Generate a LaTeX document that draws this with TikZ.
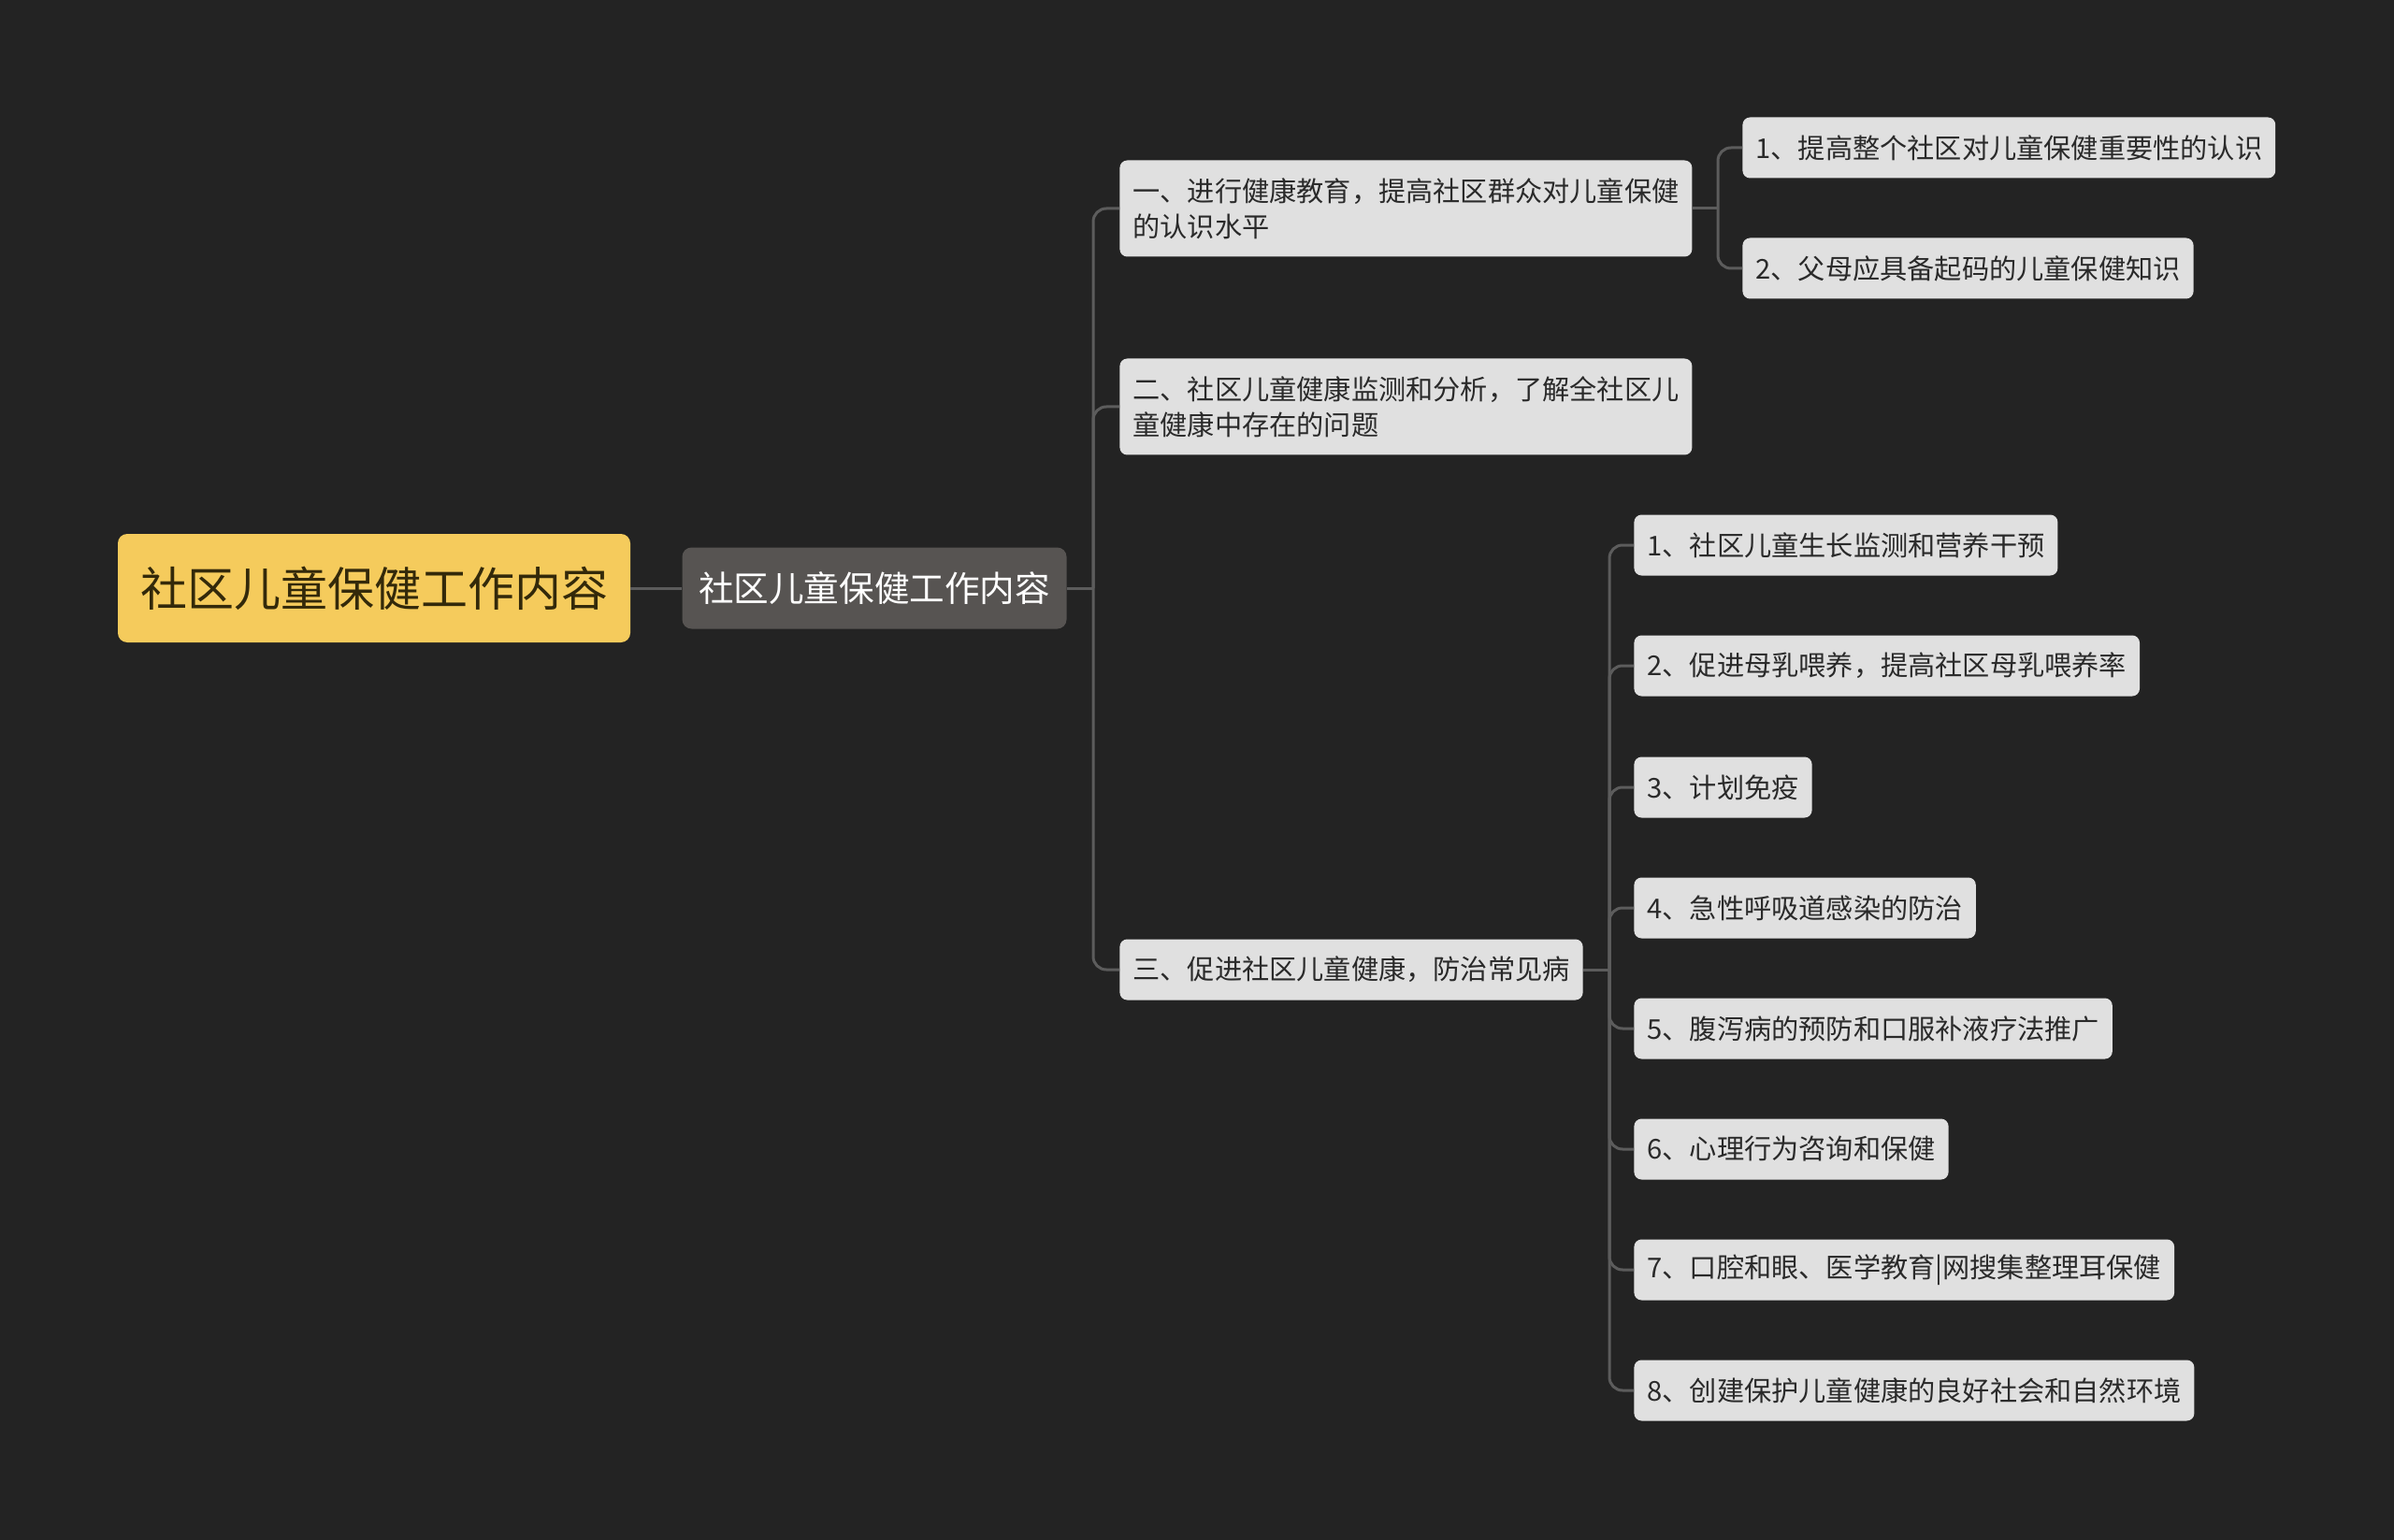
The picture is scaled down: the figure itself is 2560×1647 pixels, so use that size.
\documentclass[tikz,border=0pt]{standalone}
\usepackage{fontspec}
\setmainfont{Noto Sans CJK SC}
\usetikzlibrary{positioning}
\definecolor{bgdark}{HTML}{232323}
\definecolor{rootfill}{HTML}{F5CB5C}
\definecolor{roottext}{HTML}{33290A}
\definecolor{midfill}{HTML}{575452}
\definecolor{leaffill}{HTML}{E0E0E0}
\definecolor{leaftext}{HTML}{2A2A2A}
\definecolor{linkgray}{HTML}{5C5C5C}

\tikzset{
    rootbox/.style={fill=rootfill, text=roottext, rounded corners=5pt,
        minimum width=274pt, minimum height=58pt, inner sep=0pt,
        font=\fontsize{25}{30}\selectfont},
    midbox/.style={fill=midfill, text=white, rounded corners=5pt,
        minimum width=205.5pt, minimum height=43.5pt, inner sep=0pt,
        font=\fontsize{18.8}{22}\selectfont},
    topicbox/.style={fill=leaffill, text=leaftext, rounded corners=4pt,
        anchor=west, align=left, inner xsep=7pt, inner ysep=0pt,
        minimum height=32.5pt, font=\fontsize{14.6}{18.8}\selectfont},
    link/.style={draw=linkgray, line width=1.5pt, rounded corners=7pt}
}

\begin{document}
\begin{tikzpicture}[x=0.5pt, y=-0.5pt]
    \useasboundingbox[fill=bgdark] (0,0) rectangle (2560,1647);

    % centre and first branch
    \node[rootbox] (root) at (400,629) {社区儿童保健工作内容};
    \node[midbox] (mid) at (935,629) {社区儿童保健工作内容};

    % second level
    \node[topicbox, minimum height=51.5pt] (edu) at (1197,223) {一、进行健康教育，提高社区群众对儿童保健\\的认识水平};
    \node[topicbox, minimum height=51.5pt] (mon) at (1197,435) {二、社区儿童健康监测和分析，了解全社区儿\\童健康中存在的问题};
    \node[topicbox] (prev) at (1197,1037) {三、促进社区儿童健康，防治常见病};

    % leaves of edu
    \node[topicbox] (edua) at (1863,158) {1、提高整个社区对儿童保健重要性的认识};
    \node[topicbox] (edub) at (1863,287) {2、父母应具备起码的儿童保健知识};

    % leaves of prev
    \node[topicbox] (preva) at (1747,583) {1、社区儿童生长监测和营养干预};
    \node[topicbox] (prevb) at (1747,712) {2、促进母乳喂养，提高社区母乳喂养率};
    \node[topicbox] (prevc) at (1747,842) {3、计划免疫};
    \node[topicbox] (prevd) at (1747,971) {4、急性呼吸道感染的防治};
    \node[topicbox] (preve) at (1747,1100) {5、腹泻病的预防和口服补液疗法推广};
    \node[topicbox] (prevf) at (1747,1229) {6、心理行为咨询和保健};
    \node[topicbox] (prevg) at (1747,1358) {7、口腔和眼、医学教育|网搜集整理耳保健};
    \node[topicbox] (prevh) at (1747,1487) {8、创建保护儿童健康的良好社会和自然环境};

    % connectors
    \coordinate (midfork) at (1169,629);
    \coordinate (edufork) at (1837,223);
    \coordinate (prevfork) at (1721,1037);

    \draw[link] (root.east) -- (mid.west);
    \draw[link] (mid.east) -- (midfork);
    \draw[link] (midfork) |- (edu.west);
    \draw[link] (midfork) |- (mon.west);
    \draw[link] (midfork) |- (prev.west);

    \draw[link] (edu.east) -- (edufork);
    \draw[link] (edufork) |- (edua.west);
    \draw[link] (edufork) |- (edub.west);

    \draw[link] (prev.east) -- (prevfork);
    \draw[link] (prevfork) |- (preva.west);
    \draw[link] (prevfork) |- (prevb.west);
    \draw[link] (prevfork) |- (prevc.west);
    \draw[link] (prevfork) |- (prevd.west);
    \draw[link] (prevfork) |- (preve.west);
    \draw[link] (prevfork) |- (prevf.west);
    \draw[link] (prevfork) |- (prevg.west);
    \draw[link] (prevfork) |- (prevh.west);
\end{tikzpicture}
\end{document}
